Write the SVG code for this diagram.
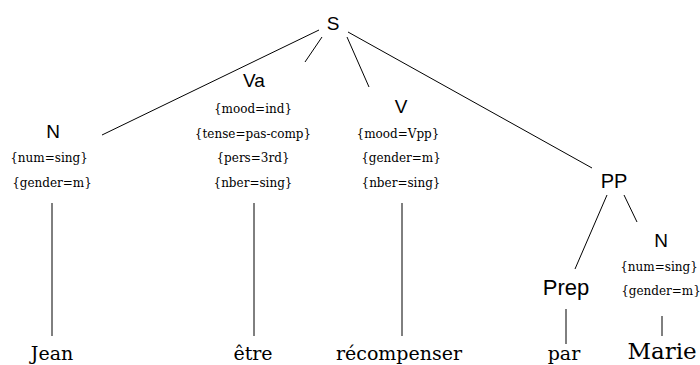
<svg xmlns="http://www.w3.org/2000/svg" width="700" height="365" viewBox="0 0 700 365">
<style>
.cat{font-family:"Liberation Sans",Arial,sans-serif;font-size:19px;fill:#000;text-anchor:middle}
.feat{font-family:"DejaVu Serif",serif;font-size:12px;fill:#000;text-anchor:middle}
.word{font-family:"DejaVu Serif",serif;font-size:19px;fill:#000;text-anchor:middle}
.edge{stroke:#000;stroke-width:1;fill:none}
</style>
<rect width="700" height="365" fill="#fff"/>
<g id="connectors">
<line class="edge" x1="319" y1="30" x2="102" y2="135"/>
<line class="edge" x1="322" y1="37" x2="305" y2="62"/>
<line class="edge" x1="347" y1="37" x2="369" y2="87"/>
<line class="edge" x1="348" y1="32" x2="592" y2="168"/>
<line class="edge" x1="607" y1="195" x2="575" y2="269"/>
<line class="edge" x1="624" y1="195" x2="637" y2="222"/>
<line class="edge" x1="52" y1="203" x2="52" y2="336"/>
<line class="edge" x1="254" y1="203" x2="254" y2="336"/>
<line class="edge" x1="402" y1="203" x2="402" y2="336"/>
<line class="edge" x1="566" y1="309" x2="566" y2="344"/>
<line class="edge" x1="662" y1="316" x2="662" y2="336"/>
</g>
<g id="S"><text class="cat" x="333" y="30">S</text></g>
<g id="N1">
<text class="cat" x="53" y="138">N</text>
<text class="feat" x="49" y="162">{num=sing}</text>
<text class="feat" x="52" y="187">{gender=m}</text>
</g>
<g id="Va">
<text class="cat" x="254" y="87">Va</text>
<text class="feat" x="253" y="113">{mood=ind}</text>
<text class="feat" x="253" y="138">{tense=pas-comp}</text>
<text class="feat" x="253" y="162">{pers=3rd}</text>
<text class="feat" x="253" y="187">{nber=sing}</text>
</g>
<g id="V">
<text class="cat" x="401" y="113">V</text>
<text class="feat" x="398" y="138">{mood=Vpp}</text>
<text class="feat" x="401" y="162">{gender=m}</text>
<text class="feat" x="401" y="187">{nber=sing}</text>
</g>
<g id="PP"><text class="cat" x="614" y="188" style="font-size:20px">PP</text></g>
<g id="Prep"><text class="cat" x="566" y="295" style="font-size:22px">Prep</text></g>
<g id="N2">
<text class="cat" x="661" y="247">N</text>
<text class="feat" x="659" y="271">{num=sing}</text>
<text class="feat" x="661" y="295">{gender=m}</text>
</g>
<g id="Jean"><text class="word" x="52" y="360">Jean</text></g>
<g id="etre"><text class="word" x="253" y="360">être</text></g>
<g id="recompenser"><text class="word" x="399" y="360">récompenser</text></g>
<g id="par"><text class="word" x="564" y="360">par</text></g>
<g id="Marie"><text class="word" x="662" y="359" style="font-size:23px">Marie</text></g>
</svg>
